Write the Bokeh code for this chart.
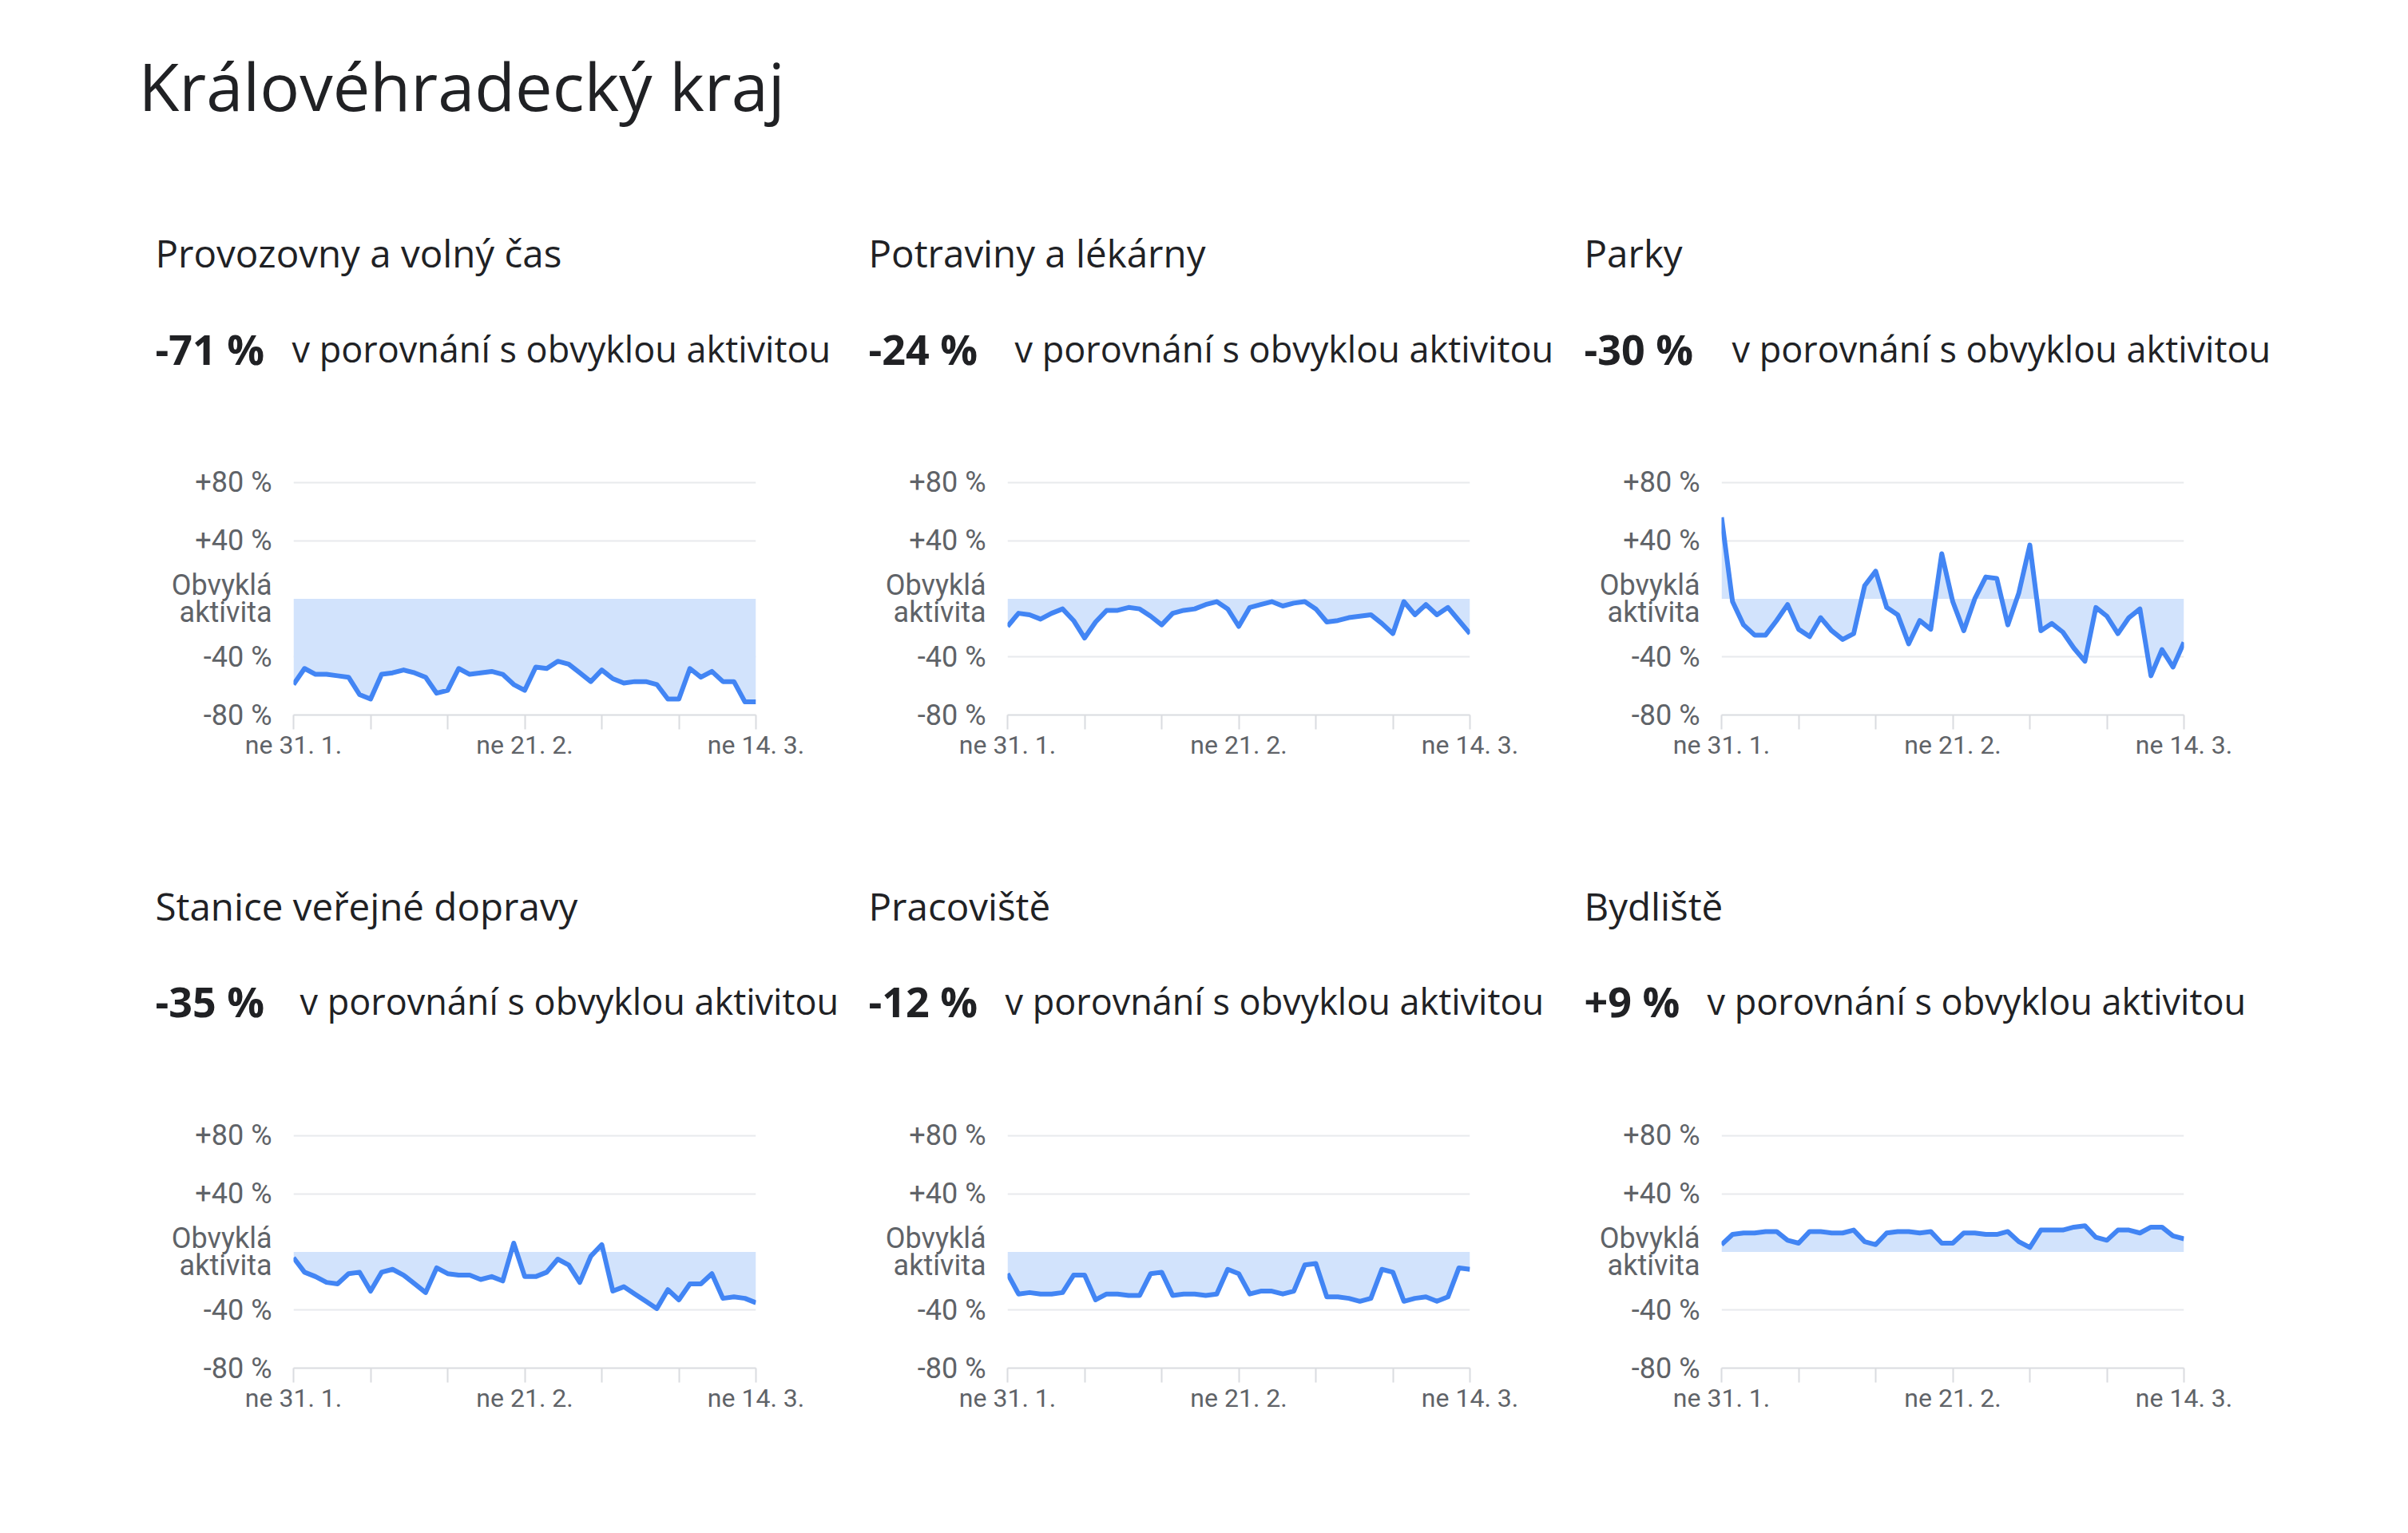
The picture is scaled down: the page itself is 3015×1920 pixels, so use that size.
from bokeh.plotting import figure
from bokeh.layouts import column, row, Spacer
from bokeh.models import Range1d, FixedTicker
from bokeh.core.properties import value
from bokeh.embed import file_html
from bokeh.resources import INLINE

# ---- data -------------------------------------------------------------
region = "Královéhradecký kraj"
categories = [
    "Provozovny a volný čas",
    "Potraviny a lékárny",
    "Parky",
    "Stanice veřejné dopravy",
    "Pracoviště",
    "Bydliště",
]
subtitle = "v porovnání s obvyklou aktivitou"

# days since Sunday 31 January (43 daily values, up to Sunday 14 March)
day_index = list(range(43))
week_ticks = [0, 7, 14, 21, 28, 35, 42]
date_labels = {0: "ne 31. 1.", 21: "ne 21. 2.", 42: "ne 14. 3."}
pct_ticks = [-80, -40, 0, 40, 80]
pct_labels = {80: "+80 %", 40: "+40 %", 0: "Obvyklá\naktivita", -40: "-40 %", -80: "-80 %"}

retail = [-59, -48, -52, -52, -53, -54, -66, -69, -52, -51, -49, -51, -54, -65, -63,
          -48, -52, -51, -50, -52, -59, -63, -47, -48, -43, -45, -51, -57, -49, -55,
          -58, -57, -57, -59, -69, -69, -48, -54, -50, -57, -57, -71, -71]
grocery = [-19, -10, -11, -14, -10, -7, -15, -27, -16, -8, -8, -6, -7, -12, -18,
           -10, -8, -7, -4, -2, -7, -19, -6, -4, -2, -5, -3, -2, -7, -16,
           -15, -13, -12, -11, -17, -24, -2, -11, -4, -11, -6, -15, -24]
parks = [56, -2, -18, -25, -25, -15, -4, -21, -26, -13, -22, -28, -24, 9, 19,
         -6, -11, -31, -15, -21, 31, -2, -22, 0, 15, 14, -18, 4, 37, -22,
         -17, -23, -34, -43, -6, -12, -24, -13, -7, -53, -35, -47, -30]
transit = [-4, -14, -17, -21, -22, -15, -14, -27, -14, -12, -16, -22, -28, -11, -15,
           -16, -16, -19, -17, -20, 6, -17, -17, -14, -5, -9, -21, -3, 5, -27,
           -24, -29, -34, -39, -26, -33, -22, -22, -15, -32, -31, -32, -35]
workplaces = [-15, -29, -28, -29, -29, -28, -16, -16, -33, -29, -29, -30, -30, -15, -14,
              -30, -29, -29, -30, -29, -12, -15, -29, -27, -27, -29, -27, -9, -8, -31,
              -31, -32, -34, -32, -12, -14, -34, -32, -31, -34, -31, -11, -12]
residential = [5, 12, 13, 13, 14, 14, 8, 6, 14, 14, 13, 13, 15, 7, 5,
               13, 14, 14, 13, 14, 6, 6, 13, 13, 12, 12, 14, 7, 3, 15,
               15, 15, 17, 18, 10, 8, 15, 15, 13, 17, 17, 11, 9]

series = [retail, grocery, parks, transit, workplaces, residential]

# ---- styling ----------------------------------------------------------
LINE = "#4285f4"
FILL = "#d2e3fc"
GRID = "#e8eaed"
AXIS = "#dadce0"
LABEL = "#5f6368"
INK = "#202124"
HEAD_FONT = value("Open Sans")
TICK_FONT = "Roboto"

PAGE_W = 3015
COL_X = [194, 1087, 1983]
TEXT_GAP = [171, 183, 185, 181, 171, 154]


def headline(v):
    return f"{v:+d} %"


def header(height, title_row, base_sub, base_head, with_title=False):
    p = figure(width=PAGE_W, height=height, x_range=Range1d(0, PAGE_W),
               y_range=Range1d(height, 0), x_axis_type=None, y_axis_type=None,
               output_backend="svg", toolbar_location=None, min_border=0)
    p.outline_line_color = None
    p.background_fill_color = "white"
    if with_title:
        p.text(x=[173], y=[106], text=[region], text_font=HEAD_FONT,
               text_font_size="83px", text_color=INK, text_baseline="alphabetic")
    idx = [3 * title_row + k for k in range(3)]
    p.text(x=COL_X, y=[base_sub] * 3, text=[categories[i] for i in idx],
           text_font=HEAD_FONT, text_font_size="47.5px", text_color=INK,
           text_baseline="alphabetic")
    p.text(x=COL_X, y=[base_head] * 3, text=[headline(series[i][-1]) for i in idx],
           text_font=HEAD_FONT, text_font_size="52px", text_font_style="bold",
           text_color=INK, text_baseline="alphabetic")
    p.text(x=[COL_X[k] + TEXT_GAP[i] for k, i in enumerate(idx)], y=[base_head] * 3,
           text=[subtitle] * 3, text_font=HEAD_FONT, text_font_size="45px",
           text_color=INK, text_baseline="alphabetic")
    return p


def chart(vals):
    p = figure(width=894, height=440, x_range=Range1d(0, 42), y_range=Range1d(-80, 81),
               output_backend="svg", toolbar_location=None,
               min_border_left=200, min_border_right=115,
               min_border_top=42, min_border_bottom=105)
    p.outline_line_color = None
    p.varea(x=day_index, y1=0, y2=vals, fill_color=FILL)
    p.line(day_index, vals, line_color=LINE, line_width=6, line_join="round")

    xa = p.xaxis[0]
    xa.ticker = FixedTicker(ticks=week_ticks)
    xa.major_label_overrides = {d: date_labels.get(d, "") for d in week_ticks}
    xa.axis_line_color = AXIS
    xa.axis_line_width = 2
    xa.major_tick_line_color = AXIS
    xa.major_tick_line_width = 2
    xa.major_tick_out = 18
    xa.major_tick_in = 0
    xa.minor_tick_line_color = None
    xa.major_label_standoff = 0
    xa.major_label_text_font = TICK_FONT
    xa.major_label_text_font_size = "32px"
    xa.major_label_text_color = LABEL

    ya = p.yaxis[0]
    ya.ticker = FixedTicker(ticks=pct_ticks)
    ya.major_label_overrides = pct_labels
    ya.axis_line_color = None
    ya.major_tick_line_color = None
    ya.minor_tick_line_color = None
    ya.major_tick_out = 0
    ya.major_tick_in = 0
    ya.major_label_standoff = 27
    ya.major_label_text_font = TICK_FONT
    ya.major_label_text_font_size = "36px"
    ya.major_label_text_line_height = 0.82
    ya.major_label_text_color = LABEL

    p.xgrid.visible = False
    p.ygrid.ticker = FixedTicker(ticks=[-80, -40, 40, 80])
    p.ygrid.grid_line_color = GRID
    p.ygrid.grid_line_width = 2
    return p


top = header(560, 0, 316, 436, with_title=True)
mid = header(378, 1, 134, 253)
row1 = row(Spacer(width=167, height=440), *[chart(s) for s in series[:3]], spacing=0)
row2 = row(Spacer(width=167, height=440), *[chart(s) for s in series[3:]], spacing=0)
page = column(top, row1, mid, row2, spacing=0)

open("out.html", "w").write(file_html(page, INLINE))
